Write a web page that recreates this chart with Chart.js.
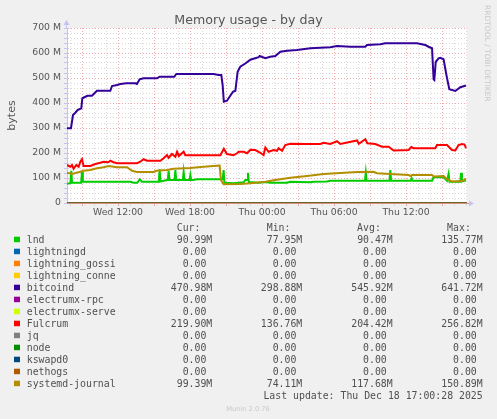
<!DOCTYPE html>
<html>
<head>
<meta charset="utf-8">
<title>Memory usage - by day</title>
<script src="https://cdn.jsdelivr.net/npm/chart.js@4.4.1/dist/chart.umd.min.js"></script>
<style>
  html, body { margin: 0; padding: 0; background: #f0f0f0; }
  #chart { display: block; }
</style>
</head>
<body>
<canvas id="chart" width="497" height="419"></canvas>
<script>
// ---------- DATA (time in hours since Wed 00:00, memory in MB) ----------
const seriesNames = ["lnd", "lightningd", "lightning_gossi", "lightning_conne", "bitcoind",
  "electrumx-rpc", "electrumx-serve", "Fulcrum", "jq", "node", "kswapd0", "nethogs", "systemd-journal"];
const seriesColors = ["#00cc00", "#0066b3", "#ff8000", "#ffcc00", "#330099",
  "#990099", "#ccff00", "#ff0000", "#808080", "#008f00", "#00487d", "#b35a00", "#b38f00"];

const curText = ["90.99M", "0.00", "0.00", "0.00", "470.98M", "0.00", "0.00", "219.90M", "0.00", "0.00", "0.00", "0.00", "99.39M"];
const minText = ["77.95M", "0.00", "0.00", "0.00", "298.88M", "0.00", "0.00", "136.76M", "0.00", "0.00", "0.00", "0.00", "74.11M"];
const avgText = ["90.47M", "0.00", "0.00", "0.00", "545.92M", "0.00", "0.00", "204.42M", "0.00", "0.00", "0.00", "0.00", "117.68M"];
const maxText = ["135.77M", "0.00", "0.00", "0.00", "641.72M", "0.00", "0.00", "256.82M", "0.00", "0.00", "0.00", "0.00", "150.89M"];

const lnd = [[7.75,77],[8.03,79],[8.06,79],[8.11,129],[8.17,81],[8.86,81],[8.93,81],[9.0,125],[9.07,85],
  [13.03,85],[13.3,81],[13.61,81],[13.8,95],[14.0,85],[15.25,85],[15.4,85],[15.47,135],[15.54,86],
  [16.08,92],[16.15,92],[16.22,129],[16.29,92],[16.71,92],[16.78,132],[16.85,92],[17.4,92],[17.47,125],
  [17.54,92],[17.96,92],[18.03,112],[18.1,92],[18.25,92],[18.58,95],[20.73,95],[20.8,132],[20.87,81],
  [21.63,79],[22.47,83],[22.61,92],[22.76,92],[22.83,121],[22.9,84],[23.72,81],[24.28,84],[24.69,81],
  [26.08,81],[26.36,85],[28.03,83],[28.3,85],[29.42,86],[29.69,89],[32.58,89],[32.65,122],[32.72,89],
  [34.62,89],[34.69,132],[34.76,89],[36.4,89],[36.47,99],[36.54,89],[38.17,89],[38.3,103],[39.13,103],
  [39.42,89],[39.48,89],[39.55,117],[39.62,85],[40.52,85],[40.59,121],[40.66,86],[41.0,91]];

const bitcoind = [[7.75,299],[8.08,299],[8.25,352],[8.44,361],[8.63,372],[8.94,379],[9.03,419],[9.28,425],
  [9.47,429],[9.83,429],[10.25,449],[11.36,449],[11.5,468],[11.92,472],[12.19,476],[12.69,479],[13.44,479],
  [13.58,476],[13.8,495],[14.13,499],[15.25,499],[15.47,505],[16.69,505],[16.86,516],[19.97,516],
  [20.38,512],[20.61,512],[20.72,472],[20.82,405],[21.08,409],[21.3,425],[21.58,445],[21.78,449],
  [21.97,525],[22.19,545],[22.61,558],[23.03,573],[23.72,583],[23.8,588],[24.28,579],[24.69,585],
  [25.11,588],[25.53,605],[26.08,609],[26.92,612],[28.03,619],[29.69,623],[30.25,628],[31.36,625],
  [32.61,625],[32.75,632],[33.86,635],[34.28,639],[36.92,639],[37.61,632],[37.88,625],[38.17,619],
  [38.3,495],[38.36,492],[38.48,565],[38.72,579],[38.86,581],[39.13,575],[39.42,499],[39.61,455],
  [40.11,448],[40.53,463],[41.0,470]];

const fulcrum = [[7.75,152],[8.03,145],[8.17,152],[8.3,137],[8.53,152],[8.72,145],[8.86,165],[9.0,175],
  [9.13,148],[9.69,148],[10.11,156],[10.53,161],[10.8,165],[11.19,163],[11.36,169],[11.63,163],[11.92,159],
  [13.58,159],[13.86,165],[14.13,175],[14.42,169],[15.53,169],[15.8,179],[16.08,192],[16.22,181],
  [16.5,196],[16.78,185],[16.92,205],[17.07,188],[17.47,205],[17.61,191],[20.53,191],[20.82,217],
  [21.08,196],[21.63,191],[21.92,199],[22.05,205],[22.47,205],[22.75,199],[23.03,213],[23.44,212],
  [23.86,201],[24.13,192],[24.28,222],[24.55,205],[24.97,212],[25.25,209],[25.38,219],[25.67,209],
  [25.94,232],[26.36,237],[27.75,236],[28.86,236],[29.13,241],[29.69,236],[30.25,247],[30.53,236],
  [31.92,250],[32.07,237],[32.61,255],[32.78,239],[33.44,236],[34.0,225],[34.55,225],[34.97,210],
  [36.22,212],[36.44,224],[36.63,219],[38.44,219],[38.58,232],[39.42,232],[39.83,212],[40.11,210],
  [40.38,232],[40.67,236],[40.88,234],[41.0,219]];

const journal = [[7.75,121],[8.17,116],[8.86,125],[9.13,129],[9.69,132],[10.25,139],[10.8,143],[11.22,148],
  [11.92,143],[12.75,143],[13.17,129],[13.58,124],[14.97,124],[15.19,129],[16.08,132],[16.63,137],
  [18.03,140],[19.13,145],[20.25,149],[20.47,150],[20.58,92],[20.8,75],[22.19,76],[23.03,79],[23.44,81],
  [24.28,85],[24.97,91],[26.36,101],[27.75,108],[29.13,116],[30.53,120],[31.92,124],[33.3,125],
  [33.58,119],[34.69,116],[36.22,112],[36.36,108],[36.5,112],[38.17,112],[38.3,106],[39.13,108],
  [39.42,95],[39.83,86],[40.67,88],[41.0,97]];

const zeroLine = [[7.75,0],[41.08,0]];
const seriesPoints = [lnd, zeroLine, zeroLine, zeroLine, bitcoind, zeroLine, zeroLine, fulcrum,
  zeroLine, zeroLine, zeroLine, zeroLine, journal];

// axes
const xStart = 7.75, xEnd = 41.083;
const gridHours = [8,9,10,11,12,13,14,15,16,17,18,19,20,21,22,23,24,25,26,27,28,29,30,31,32,33,34,35,36,37,38,39,40,41];
const labelHours = [12, 18, 24, 30, 36];
const hourLabels = ["Wed 12:00", "Wed 18:00", "Thu 00:00", "Thu 06:00", "Thu 12:00"];
const yGrid = [0,20,40,60,80,100,120,140,160,180,200,220,240,260,280,300,320,340,360,380,400,
  420,440,460,480,500,520,540,560,580,600,620,640,660,680,700];
const yLabelValues = [0, 100, 200, 300, 400, 500, 600, 700];
const yLabels = ["0", "100 M", "200 M", "300 M", "400 M", "500 M", "600 M", "700 M"];

// ---------- styles ----------
const MAJOR = "#eeaaaa";
const MINOR = "#d9d9d9";
const TEXT = "#555555";
const AXIS_BLUE = "#c4c4f4";
const BOTTOM_AXIS = "#d39488";

function hourColor(c) {
  if (!c.tick) return MINOR;
  return c.tick.value % 3 === 0 ? MAJOR : MINOR;
}

// background, title, legend etc. (rrdtool style)
const muninDecor = {
  id: "muninDecor",
  beforeDraw(chart) {
    const { ctx, chartArea: a } = chart;
    ctx.save();
    ctx.fillStyle = "#f0f0f0";
    ctx.fillRect(0, 0, chart.width, chart.height);
    ctx.fillStyle = "#ffffff";
    ctx.fillRect(a.left, a.top, a.right - a.left, a.bottom - a.top);
    ctx.restore();
  },
  afterDraw(chart) {
    const { ctx, chartArea: a } = chart;
    ctx.save();

    // title
    ctx.fillStyle = TEXT;
    ctx.font = '12.6px "DejaVu Sans"';
    ctx.textAlign = "center";
    ctx.textBaseline = "alphabetic";
    ctx.fillText("Memory usage - by day", 248.5, 24);

    // vertical axis label
    ctx.save();
    ctx.translate(14.5, (a.top + a.bottom) / 2);
    ctx.rotate(-Math.PI / 2);
    ctx.font = '11px "DejaVu Sans"';
    ctx.fillText("bytes", 0, 0);
    ctx.restore();

    // watermark
    ctx.save();
    ctx.translate(485, 5);
    ctx.rotate(Math.PI / 2);
    ctx.font = '7.5px "DejaVu Sans"';
    ctx.fillStyle = "#c8c8c8";
    ctx.textAlign = "left";
    ctx.fillText("RRDTOOL / TOBI OETIKER", 0, 0);
    ctx.restore();

    // bottom axis line over the zero series
    ctx.strokeStyle = BOTTOM_AXIS;
    ctx.lineWidth = 1;
    ctx.beginPath();
    ctx.moveTo(a.left, a.bottom + 0.5);
    ctx.lineTo(a.right + 3, a.bottom + 0.5);
    ctx.stroke();

    // axis arrows
    ctx.strokeStyle = AXIS_BLUE;
    ctx.beginPath();
    ctx.moveTo(a.left - 0.5, a.top);
    ctx.lineTo(a.left - 0.5, a.top - 6);
    ctx.stroke();
    ctx.fillStyle = AXIS_BLUE;
    ctx.beginPath();
    ctx.moveTo(a.left - 3.5, a.top - 3);
    ctx.lineTo(a.left + 2.5, a.top - 3);
    ctx.lineTo(a.left - 0.5, a.top - 8);
    ctx.closePath();
    ctx.fill();
    ctx.beginPath();
    ctx.moveTo(a.right + 2, a.bottom - 2.5);
    ctx.lineTo(a.right + 2, a.bottom + 3.5);
    ctx.lineTo(a.right + 7, a.bottom + 0.5);
    ctx.closePath();
    ctx.fill();

    // legend table
    const mono = '9.85px "DejaVu Sans Mono"';
    const ch = 5.93;
    const colRight = [212.3, 302.3, 392.7, 482.7];
    ctx.font = mono;
    ctx.fillStyle = "#505050";
    ctx.textAlign = "left";
    ["Cur:", "Min:", "Avg:", "Max:"].forEach((h, i) => {
      ctx.fillText(h, colRight[i] - 6 * ch, 230.8);
    });
    seriesNames.forEach((name, i) => {
      const y = 242.7 + 12 * i;
      ctx.fillStyle = seriesColors[i];
      ctx.fillRect(14, y - 6, 6, 5.5);
      ctx.fillStyle = "#505050";
      ctx.textAlign = "left";
      ctx.fillText(name, 26.7, y);
      ctx.textAlign = "right";
      [curText, minText, avgText, maxText].forEach((col, j) => {
        const s = col[i];
        const pad = s.endsWith("M") ? 0 : ch;
        ctx.fillText(s, colRight[j] - pad, y);
      });
    });
    ctx.textAlign = "right";
    ctx.fillText("Last update: Thu Dec 18 17:00:28 2025", 482.7, 398.7);

    ctx.font = '6.7px "DejaVu Sans"';
    ctx.fillStyle = "#c8c8c8";
    ctx.textAlign = "center";
    ctx.fillText("Munin 2.0.76", 248, 411);

    ctx.restore();
  }
};

const datasets = seriesNames.map((name, i) => {
  const zero = seriesPoints[i] === zeroLine;
  return {
    label: name,
    data: seriesPoints[i],
    borderColor: seriesColors[i],
    borderWidth: zero ? 1 : 2,
    pointRadius: 0,
    tension: 0,
    fill: false,
    order: seriesNames.length - i
  };
});

new Chart(document.getElementById("chart"), {
  type: "line",
  data: { datasets },
  plugins: [muninDecor],
  options: {
    responsive: false,
    animation: false,
    events: [],
    layout: { padding: { top: 28, right: 30, bottom: 0, left: 0 } },
    plugins: { legend: { display: false }, tooltip: { enabled: false }, title: { display: false } },
    scales: {
      x: {
        type: "linear",
        min: xStart,
        max: xEnd,
        afterBuildTicks: s => { s.ticks = gridHours.map(v => ({ value: v })); },
        afterFit: s => { s.height = 216; },
        ticks: {
          autoSkip: false,
          maxRotation: 0,
          padding: 1,
          color: TEXT,
          font: { family: "DejaVu Sans", size: 9.3 },
          callback: v => {
            const i = labelHours.indexOf(v);
            return i >= 0 ? hourLabels[i] : "";
          }
        },
        grid: { color: hourColor, tickColor: hourColor, tickLength: 3, lineWidth: 1 },
        border: { color: BOTTOM_AXIS, dash: [1, 2] }
      },
      y: {
        type: "linear",
        min: 0,
        max: 700,
        afterBuildTicks: s => { s.ticks = yGrid.map(v => ({ value: v })); },
        afterFit: s => { s.width = 67; },
        ticks: {
          autoSkip: false,
          padding: 3,
          color: TEXT,
          font: { family: "DejaVu Sans", size: 9.3 },
          callback: v => {
            const i = yLabelValues.indexOf(v);
            return i >= 0 ? yLabels[i] : "";
          }
        },
        grid: {
          color: c => (c.tick && c.tick.value % 100 === 0 ? MAJOR : MINOR),
          tickColor: AXIS_BLUE,
          tickLength: 3,
          lineWidth: 1
        },
        border: { color: AXIS_BLUE, dash: [1, 2] }
      }
    }
  }
});
</script>
</body>
</html>
